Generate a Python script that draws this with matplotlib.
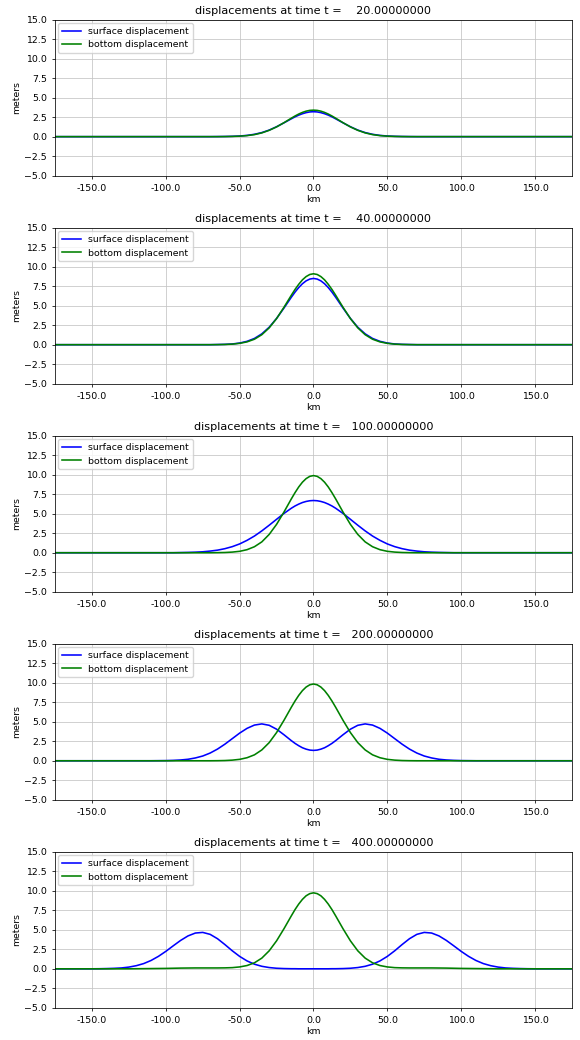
import numpy as np
import matplotlib
matplotlib.use("Agg")
import matplotlib.pyplot as plt

# the curves are symmetric about x = 0, so the left half is the mirror image
km_half = [0, 2.5, 5, 7.5, 10, 12.5, 15, 20, 25, 30, 35, 40, 45, 50, 55, 60, 65,
           70, 75, 80, 85, 90, 95, 100, 105, 110, 115, 120, 125, 130, 135, 140,
           145, 150, 155, 160, 165, 170, 175]

times = [20.0, 40.0, 100.0, 200.0, 400.0]

surf_20 = [3.20, 3.17, 3.08, 2.94, 2.76, 2.54, 2.29, 1.77, 1.27, 0.84, 0.52, 0.30,
           0.16, 0.08, 0.04, 0.02, 0.01, 0, 0, 0, 0, 0, 0, 0, 0, 0, 0, 0, 0, 0, 0,
           0, 0, 0, 0, 0, 0, 0, 0]
bott_20 = [3.40, 3.37, 3.27, 3.11, 2.90, 2.65, 2.37, 1.79, 1.25, 0.81, 0.48, 0.26,
           0.13, 0.06, 0.03, 0.01, 0, 0, 0, 0, 0, 0, 0, 0, 0, 0, 0, 0, 0, 0, 0,
           0, 0, 0, 0, 0, 0, 0, 0]

surf_40 = [8.50, 8.42, 8.19, 7.82, 7.33, 6.75, 6.09, 4.70, 3.37, 2.24, 1.39, 0.80,
           0.43, 0.21, 0.09, 0.04, 0.02, 0, 0, 0, 0, 0, 0, 0, 0, 0, 0, 0, 0, 0, 0,
           0, 0, 0, 0, 0, 0, 0, 0]
bott_40 = [9.10, 9.01, 8.74, 8.32, 7.75, 7.09, 6.35, 4.80, 3.35, 2.16, 1.28, 0.70,
           0.36, 0.17, 0.07, 0.03, 0.01, 0, 0, 0, 0, 0, 0, 0, 0, 0, 0, 0, 0, 0, 0,
           0, 0, 0, 0, 0, 0, 0, 0]

surf_100 = [6.70, 6.67, 6.58, 6.44, 6.24, 6.00, 5.71, 5.04, 4.29, 3.53, 2.80, 2.14,
            1.59, 1.13, 0.78, 0.52, 0.33, 0.21, 0.12, 0.07, 0.04, 0.02, 0, 0, 0,
            0, 0, 0, 0, 0, 0, 0, 0, 0, 0, 0, 0, 0, 0]
bott_100 = [9.90, 9.80, 9.51, 9.05, 8.44, 7.71, 6.91, 5.22, 3.64, 2.35, 1.39, 0.77,
            0.39, 0.18, 0.08, 0.03, 0.01, 0, 0, 0, 0, 0, 0, 0, 0, 0, 0, 0, 0, 0, 0,
            0, 0, 0, 0, 0, 0, 0, 0]

surf_200 = [1.33, 1.37, 1.49, 1.67, 1.93, 2.23, 2.58, 3.34, 4.05, 4.55, 4.73, 4.58,
            4.16, 3.55, 2.84, 2.13, 1.50, 0.99, 0.61, 0.36, 0.19, 0.10, 0.05, 0.02,
            0.01, 0, 0, 0, 0, 0, 0, 0, 0, 0, 0, 0, 0, 0, 0]
bott_200 = [9.85, 9.75, 9.46, 9.00, 8.39, 7.67, 6.87, 5.19, 3.62, 2.33, 1.39, 0.76,
            0.39, 0.18, 0.08, 0.03, 0.01, 0, 0, 0, 0, 0, 0, 0, 0, 0, 0, 0, 0, 0, 0,
            0, 0, 0, 0, 0, 0, 0, 0]

surf_400 = [0, 0, 0, 0, 0, 0.01, 0.01, 0.03, 0.07, 0.16, 0.32, 0.59, 1.01, 1.59,
            2.31, 3.11, 3.86, 4.42, 4.67, 4.59, 4.22, 3.64, 2.95, 2.24, 1.60, 1.07,
            0.67, 0.40, 0.22, 0.11, 0.06, 0.03, 0.01, 0, 0, 0, 0, 0, 0]
bott_400 = [9.75, 9.65, 9.37, 8.91, 8.31, 7.60, 6.80, 5.14, 3.59, 2.31, 1.37, 0.77,
            0.42, 0.24, 0.15, 0.12, 0.11, 0.11, 0.11, 0.11, 0.10, 0.09, 0.07, 0.05,
            0.04, 0.03, 0.02, 0.01, 0, 0, 0, 0, 0, 0, 0, 0, 0, 0, 0]

surface = [surf_20, surf_40, surf_100, surf_200, surf_400]
bottom = [bott_20, bott_40, bott_100, bott_200, bott_400]

xticks = [-150, -100, -50, 0, 50, 100, 150]
yticks = [-5, -2.5, 0, 2.5, 5, 7.5, 10, 12.5, 15]


def mirror(half):
    half = np.asarray(half, dtype=float)
    return np.concatenate([half[:0:-1], half])


km = np.concatenate([-np.asarray(km_half[:0:-1], dtype=float), km_half])

plt.rcParams['font.size'] = 6.75
plt.rcParams['axes.titlesize'] = 8.1
plt.rcParams['axes.linewidth'] = 0.55
plt.rcParams['xtick.major.width'] = 0.55
plt.rcParams['ytick.major.width'] = 0.55
plt.rcParams['xtick.major.size'] = 2.4
plt.rcParams['ytick.major.size'] = 2.4
plt.rcParams['grid.linewidth'] = 0.55
plt.rcParams['grid.color'] = '#c4c4c4'

fig, axes = plt.subplots(5, 1, figsize=(5.8, 10.4), dpi=100)
fig.subplots_adjust(left=0.095, right=0.986, top=0.981, bottom=0.031, hspace=0.335)

for ax, t, s, b in zip(axes, times, surface, bottom):
    ax.plot(km, mirror(s), 'b', lw=1.15, label='surface displacement')
    ax.plot(km, mirror(b), 'g', lw=1.15, label='bottom displacement')
    ax.set_xlim(-175, 175)
    ax.set_ylim(-5, 15)
    ax.set_xticks(xticks)
    ax.set_xticklabels(['%.1f' % v for v in xticks])
    ax.set_yticks(yticks)
    ax.grid(True)
    ax.set_title('displacements at time t = %14.8f' % t, pad=4)
    ax.set_xlabel('km', labelpad=1.5)
    ax.set_ylabel('meters', labelpad=2)
    ax.legend(loc='upper left', borderaxespad=0.35, handlelength=2.0)

fig.savefig('out.png', dpi=100)
